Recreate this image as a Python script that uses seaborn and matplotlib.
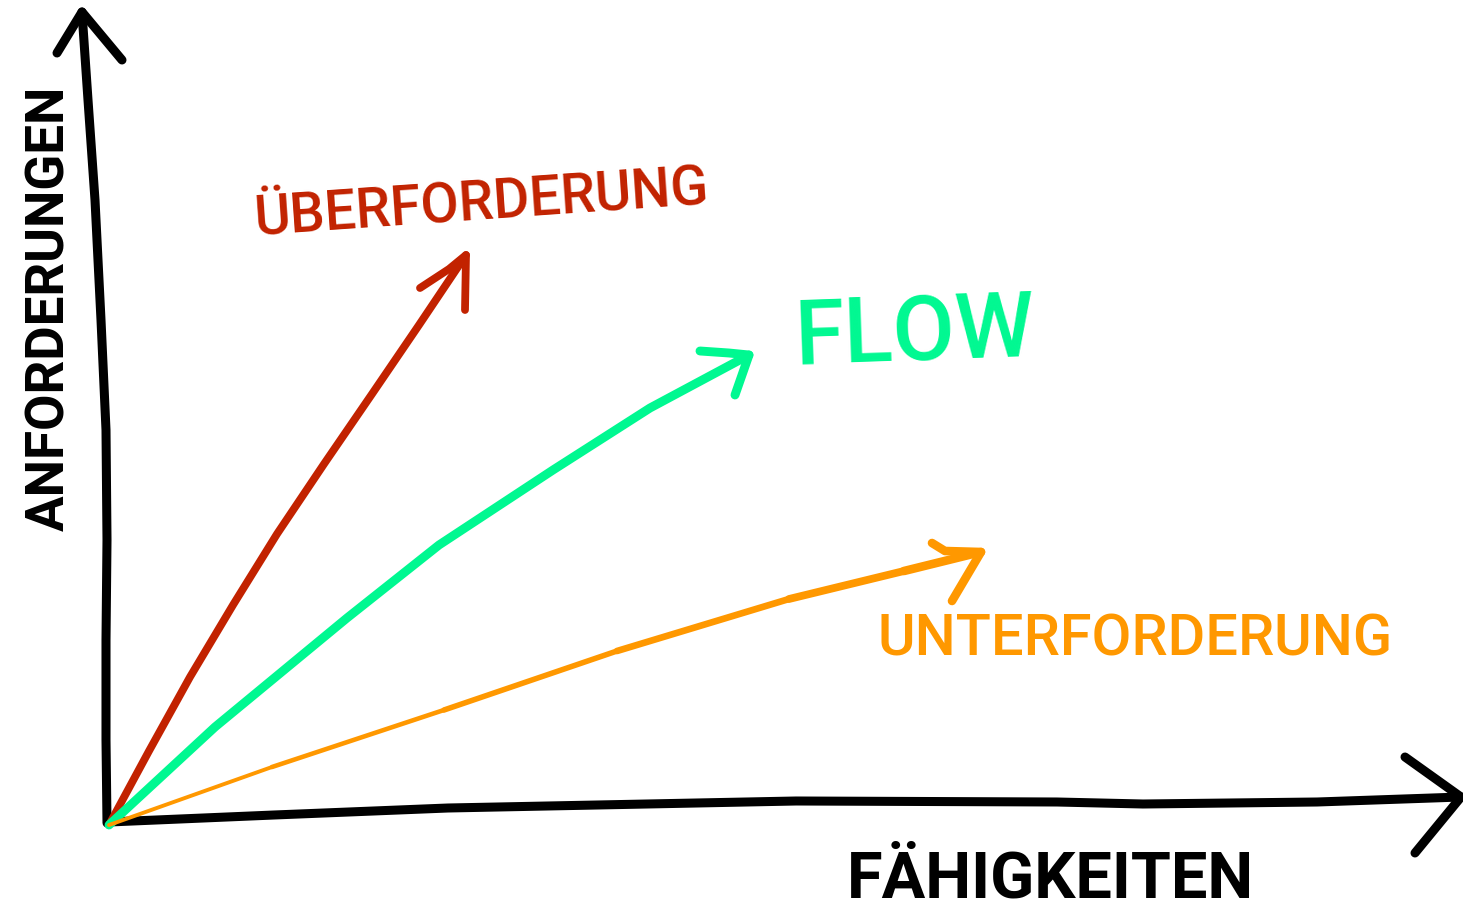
import matplotlib
matplotlib.use("Agg")
import seaborn as sns
import matplotlib.pyplot as plt
from matplotlib import font_manager

# skill (x) vs demand (y), origin at the corner of the sketch
ueber_x = [0, 40, 81, 124, 168, 215, 263, 310, 357]
ueber_y = [0, 74, 148, 220, 291, 361, 431, 500, 570]
ueber_head = [(311, 537), (340, 556), (357, 570), (356, 515)]

flow_x = [0, 106, 238, 330, 444, 541, 640]
flow_y = [0, 98, 207, 280, 355, 417, 470]
flow_head = [(591, 474), (620, 472), (640, 470), (626, 430)]

unter_x = [0, 163, 335, 508, 680, 795, 872]
unter_y = [0, 58, 115, 174, 226, 254, 273]
unter_head = [(823, 282), (836, 274), (872, 273), (843, 224)]

yaxis_x = [-2, -3, -3, -2, -3, -8, -14, -21, -27]
yaxis_y = [2, 85, 185, 285, 395, 505, 625, 725, 813]
yaxis_head = [(-52, 772), (-27, 813), (13, 765)]

xaxis_x = [0, 165, 339, 687, 948, 1034, 1208, 1352]
xaxis_y = [3, 10, 17, 24, 23, 21, 23, 28]
xaxis_head = [(1296, 68), (1352, 28), (1306, -28)]

RED = "#c22200"
GREEN = "#00f891"
ORANGE = "#ff9800"
BLACK = "#000000"

sns.set_theme(style="white")

names = {f.name for f in font_manager.fontManager.ttflist}
FONT = "Roboto" if "Roboto" in names else "DejaVu Sans"
plt.rcParams["font.family"] = [FONT, "DejaVu Sans"]

fig = plt.figure(figsize=(14.63, 9.10), dpi=100)
ax = fig.add_axes([0, 0, 1, 1])
ax.set_xlim(-109, 1354)
ax.set_ylim(-85, 825)
ax.axis("off")


def stroke(xs, ys, color, lw):
    sns.lineplot(x=xs, y=ys, sort=False, estimator=None, color=color,
                 linewidth=lw, solid_capstyle="round", solid_joinstyle="round",
                 ax=ax, legend=False)


def head(pts, color, lw):
    stroke([p[0] for p in pts], [p[1] for p in pts], color, lw)


# axes
stroke(yaxis_x, yaxis_y, BLACK, 6.5)
head(yaxis_head, BLACK, 6.5)
stroke(xaxis_x, xaxis_y, BLACK, 6.5)
head(xaxis_head, BLACK, 6.5)

# arrows
stroke(ueber_x, ueber_y, RED, 5.6)
head(ueber_head, RED, 5.6)
stroke(flow_x, flow_y, GREEN, 6.4)
head(flow_head, GREEN, 6.4)
# orange pen pressure grows towards the tip
unter_lw = [2.8, 3.3, 4.0, 4.8, 5.6, 6.2]
for i, lw in enumerate(unter_lw):
    stroke(unter_x[i:i + 2], unter_y[i:i + 2], ORANGE, lw)
head(unter_head, ORANGE, 6.2)

renderer = fig.canvas.get_renderer()


def label(text, x, y, width_px, color, rotation=0, weight="medium"):
    t = ax.text(x, y, text, ha="center", va="center", color=color,
                fontsize=40, fontweight=weight, rotation_mode="anchor")
    w = t.get_window_extent(renderer).width
    t.set_fontsize(40 * width_px / w)
    t.set_rotation(rotation)
    return t


label("ÜBERFORDERUNG", 373, 622, 455, RED, rotation=4)
label("FLOW", 806, 490, 240, GREEN, rotation=2)
label("UNTERFORDERUNG", 1026, 185, 514, ORANGE)
label("ANFORDERUNGEN", -59, 517, 445, BLACK, rotation=90, weight="bold")
label("FÄHIGKEITEN", 941, -55, 407, BLACK, weight="bold")

fig.savefig("out.png", dpi=100, facecolor="white")
